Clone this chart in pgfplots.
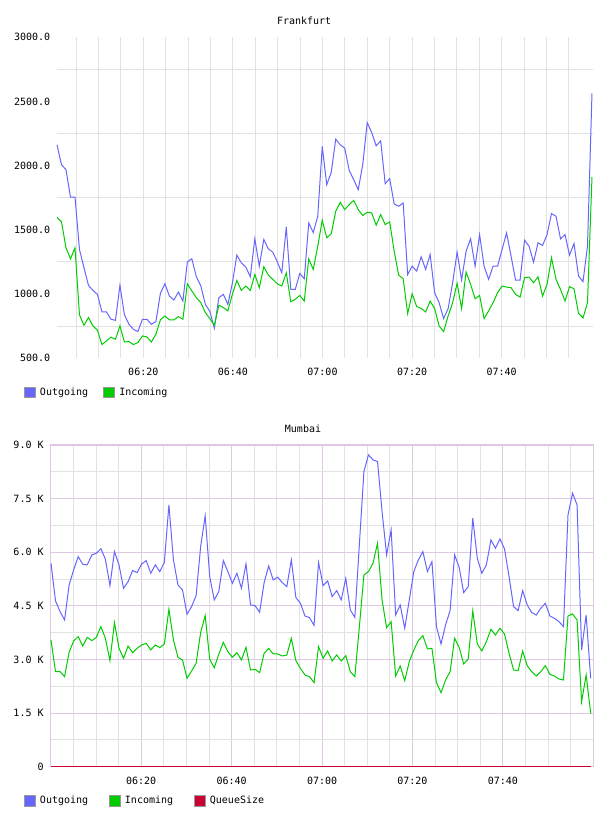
\documentclass[border=0pt]{standalone}
\usepackage{fontspec}
\setmainfont{DejaVu Sans Mono}
\usepackage{pgfplots}
\usepackage{pgfplotstable}
\pgfplotsset{compat=1.18}
\definecolor{outblue}{RGB}{102,102,255}
\definecolor{ingreen}{RGB}{0,204,0}
\definecolor{queuered}{RGB}{204,0,51}
\definecolor{gridgray}{RGB}{226,226,226}
\definecolor{gridpurple}{RGB}{222,200,226}
\definecolor{borderpink}{RGB}{238,224,240}

\pgfplotstableread{
k out in
0 2162 1597
1 2006 1561
2 1968 1359
3 1755 1273
4 1755 1359
5 1346 836
6 1204 755
7 1066 815
8 1027 750
9 996 716
10 859 605
11 859 633
12 802 662
13 794 646
14 1066 750
15 836 625
16 763 628
17 724 605
18 706 620
19 802 672
20 802 664
21 763 625
22 784 685
23 1004 797
24 1079 828
25 983 797
26 952 797
27 1014 823
28 944 802
29 1250 1079
30 1273 1022
31 1133 970
32 1061 931
33 918 854
34 864 807
35 732 755
36 970 911
37 996 893
38 918 867
39 1082 996
40 1302 1105
41 1242 1027
42 1209 1061
43 1133 1027
44 1429 1151
45 1216 1048
46 1424 1211
47 1351 1146
48 1325 1113
49 1250 1079
50 1164 1061
51 1522 1164
52 1035 939
53 1035 957
54 1159 988
55 1118 944
56 1553 1273
57 1478 1190
58 1605 1372
59 2149 1574
60 1851 1437
61 1947 1468
62 2206 1644
63 2162 1714
64 2136 1657
65 1962 1696
66 1890 1729
67 1812 1657
68 2006 1610
69 2335 1636
70 2258 1631
71 2154 1535
72 2193 1618
73 1859 1540
74 1898 1561
75 1701 1333
76 1683 1146
77 1709 1118
78 1151 846
79 1216 1001
80 1177 901
81 1289 887
82 1190 859
83 1307 944
84 1009 885
85 931 750
86 807 706
87 885 828
88 1087 931
89 1325 1082
90 1108 885
91 1333 1170
92 1429 1074
93 1216 962
94 1462 988
95 1216 807
96 1113 867
97 1216 931
98 1216 1009
99 1346 1061
100 1475 1053
101 1294 1048
102 1108 996
103 1108 975
104 1418 1126
105 1372 1131
106 1247 1087
107 1398 1133
108 1377 983
109 1462 1074
110 1626 1281
111 1605 1113
112 1429 1035
113 1462 944
114 1302 1056
115 1392 1040
116 1139 848
117 1095 812
118 1372 931
119 2563 1911
}\frankfurt

\pgfplotstableread{
k out in queue
0 5690 3545 0
1 4636 2658 0
2 4338 2658 0
3 4104 2519 0
4 5084 3200 0
5 5504 3517 0
6 5877 3638 0
7 5662 3377 0
8 5643 3619 0
9 5923 3526 0
10 5970 3619 0
11 6100 3918 0
12 5802 3591 0
13 5065 2966 0
14 6017 4030 0
15 5643 3311 0
16 4990 3032 0
17 5177 3377 0
18 5485 3190 0
19 5429 3311 0
20 5672 3405 0
21 5765 3451 0
22 5410 3265 0
23 5643 3405 0
24 5457 3330 0
25 5718 3433 0
26 7322 4403 0
27 5783 3545 0
28 5084 3060 0
29 4944 2985 0
30 4263 2472 0
31 4477 2677 0
32 4785 2892 0
33 6156 3750 0
34 7015 4226 0
35 5317 3004 0
36 4664 2770 0
37 4897 3144 0
38 5765 3479 0
39 5457 3218 0
40 5130 3060 0
41 5410 3190 0
42 4990 2985 0
43 5671 3339 0
44 4524 2705 0
45 4505 2724 0
46 4319 2631 0
47 5149 3172 0
48 5615 3311 0
49 5224 3153 0
50 5298 3153 0
51 5149 3097 0
52 5037 3125 0
53 5783 3591 0
54 4729 2966 0
55 4571 2752 0
56 4216 2565 0
57 4170 2519 0
58 3955 2351 0
59 5709 3358 0
60 5065 3032 0
61 5196 3237 0
62 4757 2957 0
63 4925 3125 0
64 4664 2957 0
65 5270 3106 0
66 4384 2658 0
67 4179 2519 0
68 6222 3918 0
69 8255 5364 0
70 8722 5457 0
71 8582 5690 0
72 8535 6250 0
73 7136 4664 0
74 5923 3890 0
75 6623 4058 0
76 4244 2537 0
77 4524 2817 0
78 3871 2407 0
79 4664 2938 0
80 5457 3265 0
81 5783 3526 0
82 6017 3666 0
83 5457 3293 0
84 5737 3311 0
85 3918 2351 0
86 3433 2071 0
87 3964 2425 0
88 4366 2658 0
89 5923 3591 0
90 5578 3339 0
91 4869 2873 0
92 5037 3013 0
93 6949 4356 0
94 5830 3433 0
95 5410 3237 0
96 5643 3498 0
97 6343 3843 0
98 6110 3685 0
99 6371 3871 0
100 6091 3713 0
101 5317 3172 0
102 4477 2705 0
103 4366 2686 0
104 4925 3237 0
105 4524 2826 0
106 4310 2658 0
107 4244 2537 0
108 4431 2658 0
109 4571 2826 0
110 4216 2584 0
111 4151 2537 0
112 4058 2453 0
113 3918 2425 0
114 7043 4216 0
115 7649 4272 0
116 7322 4104 0
117 3265 1819 0
118 4244 2565 0
119 2472 1492 0
}\mumbai

\pgfplotsset{
  chartbase/.style={
    scale only axis, clip=false,
    anchor=south west,
    major tick length=0pt, minor tick length=0pt,
    every tick label/.append style={inner sep=0pt},
    xticklabel style={anchor=center, yshift=-14.3pt},
    yticklabel style={anchor=east, xshift=-6.6pt},
    xtick={20,40,60,80,100},
    xticklabels={06:20,06:40,07:00,07:20,07:40},
    minor xtick={5,10,15,25,30,35,45,50,55,65,70,75,85,90,95,105,110,115},
    legend columns=-1,
    legend image code/.code={%
      \draw[line width=0.6pt, draw=black!40, fill] (0pt,-5.25pt) rectangle (10.5pt,5.25pt);
      \path (15pt,0pt);},
    legend style={draw=none, fill=none, inner sep=0pt,
      at={(axis description cs:0,0)}, anchor=north west,
      nodes={inner sep=0pt}, cells={anchor=west}},
  }
}

\begin{document}
\fontsize{10}{12}\selectfont
\begin{tikzpicture}
\useasboundingbox (0pt,0pt) rectangle (608pt,-816pt);

% Frankfurt
\begin{axis}[chartbase,
  at={(57pt,-358pt)},
  width=536.3pt, height=320.7pt,
  xmin=0.74, xmax=120.45,
  ymin=500, ymax=3000,
  axis line style={draw=none},
  ytick={500,1000,1500,2000,2500,3000},
  yticklabels={500.0,1000.0,1500.0,2000.0,2500.0,3000.0},
  minor ytick={750,1250,1750,2250,2750},
  xmajorgrids, xminorgrids, yminorgrids,
  major grid style={gridgray, line width=0.8pt},
  minor grid style={gridgray, line width=0.8pt},
  title={Frankfurt},
  title style={at={(axis description cs:0.4608,1)}, anchor=center, yshift=11pt},
  legend style={xshift=-33pt, yshift=-28.5pt,
    /tikz/every even column/.append style={column sep=15.3pt}},
]
\addplot[outblue, line width=1pt] table[x expr={0.74+1.0035*\thisrow{k}}, y=out]{\frankfurt};
\addlegendentry{Outgoing}
\addplot[ingreen, line width=1pt] table[x expr={0.74+1.0035*\thisrow{k}}, y=in]{\frankfurt};
\addlegendentry{Incoming}
\end{axis}

% Mumbai
\begin{axis}[chartbase,
  at={(50.8pt,-766.7pt)},
  width=542.5pt, height=321.8pt,
  xmin=0, xmax=120,
  ymin=0, ymax=9000,
  axis line style={draw=gridpurple, line width=0.9pt},
  ytick={0,1500,3000,4500,6000,7500,9000},
  yticklabels={0,1.5 K,3.0 K,4.5 K,6.0 K,7.5 K,9.0 K},
  yticklabel style={xshift=-0.4pt},
  minor ytick={750,2250,3750,5250,6750,8250},
  xmajorgrids, xminorgrids, ymajorgrids, yminorgrids,
  major grid style={gridpurple, line width=0.8pt},
  minor grid style={gridgray, line width=0.8pt},
  title={Mumbai},
  title style={at={(axis description cs:0.4649,1)}, anchor=center, yshift=10.6pt},
  legend style={xshift=-26.8pt, yshift=-28.3pt,
    /tikz/every even column/.append style={column sep=21pt}},
]
\addplot[outblue, line width=1pt] table[x expr={0.04+1.0032*\thisrow{k}}, y=out]{\mumbai};
\addlegendentry{Outgoing}
\addplot[ingreen, line width=1pt] table[x expr={0.04+1.0032*\thisrow{k}}, y=in]{\mumbai};
\addlegendentry{Incoming}
\addplot[queuered, line width=1pt] table[x expr={0.04+1.0032*\thisrow{k}}, y=queue]{\mumbai};
\addlegendentry{QueueSize}
\end{axis}
\end{tikzpicture}
\end{document}
